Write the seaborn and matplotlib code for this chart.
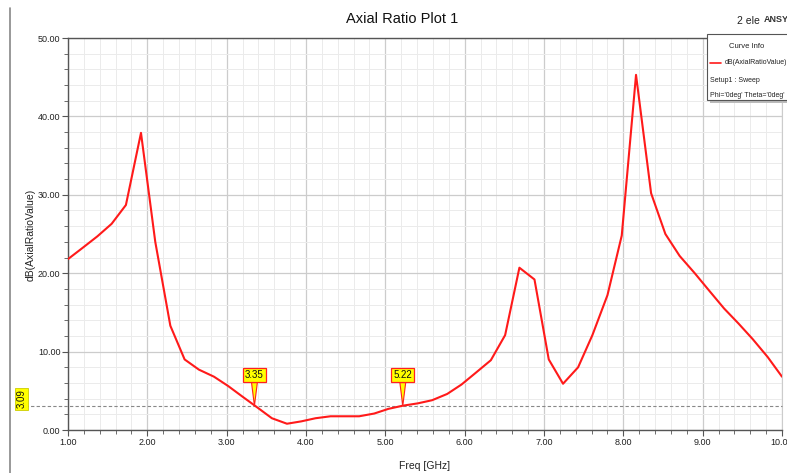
import matplotlib
matplotlib.use("Agg")
import matplotlib.pyplot as plt
import seaborn as sns
import pandas as pd
from matplotlib.lines import Line2D
from matplotlib.patches import Rectangle
from matplotlib.ticker import MultipleLocator, FormatStrFormatter

# ---- data ----
freq_ghz = [1.00, 1.18, 1.37, 1.55, 1.73, 1.92, 2.10, 2.29, 2.47, 2.65,
            2.84, 3.02, 3.20, 3.39, 3.57, 3.76, 3.94, 4.12, 4.31, 4.49,
            4.67, 4.86, 5.04, 5.22, 5.41, 5.59, 5.78, 5.96, 6.14, 6.33,
            6.51, 6.69, 6.88, 7.06, 7.24, 7.43, 7.61, 7.80, 7.98, 8.16,
            8.35, 8.53, 8.71, 8.90, 9.08, 9.27, 9.45, 9.63, 9.82, 10.00]
axial_ratio_db = [21.8, 23.2, 24.7, 26.3, 28.7, 37.9, 24.0, 13.3, 9.0, 7.7,
                  6.8, 5.6, 4.25, 2.85, 1.5, 0.8, 1.1, 1.5, 1.75, 1.75,
                  1.75, 2.1, 2.7, 3.1, 3.4, 3.8, 4.6, 5.8, 7.3, 8.9,
                  12.1, 20.7, 19.2, 9.0, 5.9, 8.0, 12.1, 17.2, 24.8, 45.3,
                  30.2, 25.0, 22.2, 20.0, 17.8, 15.5, 13.6, 11.6, 9.3, 6.8]
marker_x = [3.35, 5.22]
marker_labels = ["3.35", "5.22"]
y_marker = 3.09
x_ticks = [1.0, 2.0, 3.0, 4.0, 5.0, 6.0, 7.0, 8.0, 9.0, 10.0]
y_ticks = [0.0, 10.0, 20.0, 30.0, 40.0, 50.0]

df = pd.DataFrame({"Freq [GHz]": freq_ghz, "dB(AxialRatioValue)": axial_ratio_db})

sns.set_theme(style="white")
plt.rcParams["font.family"] = ["Liberation Sans", "DejaVu Sans"]

fig = plt.figure(figsize=(7.87, 4.73), dpi=100)
ax = fig.add_axes([68 / 787, 1 - 430 / 473, (782 - 68) / 787, (430 - 38) / 473])

sns.lineplot(data=df, x="Freq [GHz]", y="dB(AxialRatioValue)", ax=ax,
             color="#ff1a1a", linewidth=1.5, zorder=5)

ax.set_xlim(1.0, 10.0)
ax.set_ylim(0.0, 50.0)
ax.set_xticks(x_ticks)
ax.set_yticks(y_ticks)
ax.xaxis.set_minor_locator(MultipleLocator(0.2))
ax.yaxis.set_minor_locator(MultipleLocator(2.0))
ax.xaxis.set_major_formatter(FormatStrFormatter("%.2f"))
ax.yaxis.set_major_formatter(FormatStrFormatter("%.2f"))
ax.grid(which="major", color="#cccccc", linewidth=0.9)
ax.grid(which="minor", color="#ebebeb", linewidth=0.7)
ax.set_axisbelow(True)
ax.tick_params(which="major", direction="out", length=4, width=0.8, color="#555555",
               labelsize=6.5, labelcolor="#222222", pad=1.5, bottom=True, left=True)
ax.tick_params(which="minor", direction="out", length=3, width=0.6, color="#555555",
               bottom=True, left=True)
for side in ["left", "bottom", "top"]:
    ax.spines[side].set_color("#555555")
    ax.spines[side].set_linewidth(1.0)
ax.spines["right"].set_color("#cccccc")
ax.spines["right"].set_linewidth(0.8)

ax.set_xlabel("")
ax.set_ylabel("")
fig.text(425 / 787, 1 - 466 / 473, "Freq [GHz]", ha="center", va="center",
         fontsize=7.5, color="#222222")
fig.text(31 / 787, 1 - 235 / 473, "dB(AxialRatioValue)", ha="center", va="center",
         rotation=90, fontsize=7.5, color="#222222")
fig.text(402 / 787, 1 - 19 / 473, "Axial Ratio Plot 1", ha="center", va="center",
         fontsize=10.5, color="#111111")
fig.text(737 / 787, 1 - 21 / 473, "2 ele", ha="left", va="center", fontsize=7.5,
         color="#222222")
fig.text(764 / 787, 1 - 19 / 473, "ANSYS", ha="left", va="center", fontsize=6.5,
         fontweight="bold", color="#333333")

# left border line
fig.add_artist(Line2D([10 / 787, 10 / 787], [0, 1 - 8 / 473], transform=fig.transFigure,
                      color="#888888", linewidth=1.2))

# y marker dashed line
ax.axhline(y_marker, xmin=-0.06, xmax=1.0, color="#888888", linestyle=(0, (3, 2)),
           linewidth=0.8, clip_on=False, zorder=3)
fig.text(21.5 / 787, 1 - 399 / 473, f"{y_marker:.2f}", rotation=90, ha="center",
         va="center", fontsize=7, color="#111111",
         bbox=dict(boxstyle="square,pad=0.15", facecolor="#ffff00", edgecolor="#cccc00",
                   linewidth=0.6))

# x markers on the curve
for mx, lab in zip(marker_x, marker_labels):
    ax.annotate(lab, xy=(mx, y_marker), xytext=(0, 22), textcoords="offset points",
                ha="center", va="center", fontsize=7, color="#111111", zorder=8,
                bbox=dict(boxstyle="square,pad=0.2", facecolor="#ffff00",
                          edgecolor="#ff2020", linewidth=0.9),
                arrowprops=dict(arrowstyle="wedge,tail_width=0.6", facecolor="#ffff00",
                                edgecolor="#ff2020", linewidth=0.8, shrinkA=0, shrinkB=0))

# curve info box
shadow = Rectangle((710 / 787, 1 - 103 / 473), 80 / 787, 68 / 473, transform=fig.transFigure,
                   facecolor="#bbbbbb", edgecolor="none", zorder=9)
box = Rectangle((707 / 787, 1 - 100 / 473), 82 / 787, 66 / 473, transform=fig.transFigure,
                facecolor="white", edgecolor="#555555", linewidth=0.8, zorder=10)
fig.add_artist(shadow)
fig.add_artist(box)
fig.text(747 / 787, 1 - 46 / 473, "Curve Info", ha="center", va="center", fontsize=5.5,
         color="#222222", zorder=11)
fig.add_artist(Line2D([710 / 787, 721 / 787], [1 - 63 / 473, 1 - 63 / 473],
                      transform=fig.transFigure, color="#ff1a1a", linewidth=1.2, zorder=11))
fig.text(725 / 787, 1 - 63 / 473, "dB(AxialRatioValue)", ha="left", va="center",
         fontsize=5, color="#222222", zorder=11)
fig.text(710 / 787, 1 - 80 / 473, "Setup1 : Sweep", ha="left", va="center",
         fontsize=5, color="#222222", zorder=11)
fig.text(710 / 787, 1 - 95 / 473, "Phi='0deg' Theta='0deg'", ha="left", va="center",
         fontsize=5, color="#222222", zorder=11)

fig.savefig("out.png", dpi=100, facecolor="white")
